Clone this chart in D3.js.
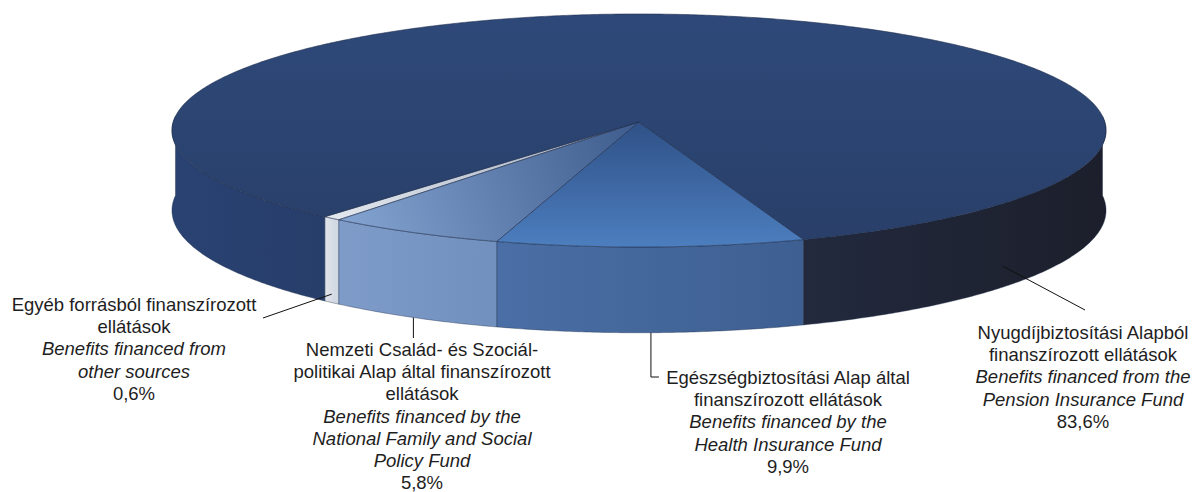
<!DOCTYPE html>
<html>
<head>
<meta charset="utf-8">
<script src="https://cdn.jsdelivr.net/npm/d3@7"></script>
<style>
  body { margin: 0; background: #fff; }
  svg { display: block; }
</style>
</head>
<body>
<div id="chart"></div>
<script>
// ---------------- data ----------------
var categories = ["other", "family", "health", "pension"];
var huLabelLines = [
  ["Egyéb forrásból finanszírozott", "ellátások"],
  ["Nemzeti Család- és Szociál-", "politikai Alap által finanszírozott", "ellátások"],
  ["Egészségbiztosítási Alap által", "finanszírozott ellátások"],
  ["Nyugdíjbiztosítási Alapból", "finanszírozott ellátások"]
];
var enLabelLines = [
  ["Benefits financed from", "other sources"],
  ["Benefits financed by the", "National Family and Social", "Policy Fund"],
  ["Benefits financed by the", "Health Insurance Fund"],
  ["Benefits financed from the", "Pension Insurance Fund"]
];
var shares = [0.6, 5.8, 9.9, 83.6];

// ---------------- layout / style ----------------
var attrs = {
  width: 1198,
  height: 492,
  cx: 639,
  cy: 122,
  rx: 465.8,
  ry: 115.9,
  depth: 79.5,
  persp: 0.0729,        // perspective factor of the tilted disc
  startDeg: -39.54,     // angle of first slice edge, 0 = front
  font: "'Liberation Sans', Arial, sans-serif",
  fontSize: 18.5,
  lineHeight: 22.2,
  textColor: "#1e1e1e",
  edgeColor: "#1b2a48"
};

var sideFill = ["url(#otherSide)", "url(#familySide)", "url(#healthSide)", "url(#pensionSide)"];
var topFill = ["url(#otherTop)", "url(#familyTop)", "url(#healthTop)", "url(#pensionTop)"];

// label anchors (text centre x, first baseline y)
var labelPos = [
  { x: 134, y: 311 },
  { x: 422, y: 356 },
  { x: 788, y: 384 },
  { x: 1083, y: 339 }
];

var svg = d3.select("#chart").append("svg")
  .attr("width", attrs.width)
  .attr("height", attrs.height);

// ---------------- gradients ----------------
var defs = svg.append("defs");
function linGrad(id, x1, y1, x2, y2, stops) {
  var g = defs.append("linearGradient").attr("id", id)
    .attr("gradientUnits", "userSpaceOnUse")
    .attr("x1", x1).attr("y1", y1).attr("x2", x2).attr("y2", y2);
  stops.forEach(function(s) {
    g.append("stop").attr("offset", s[0]).attr("stop-color", s[1]);
  });
}
linGrad("pensionSide", 172, 0, 1107, 0, [[0, "#2a4272"], [0.16, "#273e6b"], [0.66, "#232a3f"], [1, "#1c1f2b"]]);
linGrad("healthSide", 495, 0, 802, 0, [[0, "#4a6fa6"], [0.5, "#44679b"], [1, "#3e5f91"]]);
linGrad("familySide", 335, 0, 495, 0, [[0, "#7f9cc9"], [1, "#7190be"]]);
linGrad("otherSide", 322, 0, 335, 0, [[0, "#e4e8ee"], [1, "#d3d9e3"]]);
linGrad("pensionTop", 0, 14, 0, 250, [[0, "#2e4979"], [1, "#293f69"]]);
linGrad("healthTop", 0, 122, 0, 250, [[0, "#2f5187"], [1, "#4d7fc0"]]);
linGrad("familyTop", 640, 122, 330, 236, [[0, "#3d5b8c"], [1, "#87a7d4"]]);
linGrad("otherTop", 640, 122, 320, 216, [[0, "#9aa6ba"], [1, "#e6eaf0"]]);

// ---------------- projection ----------------
function project(phi, r, z) {
  var u = r * Math.sin(phi), v = r * Math.cos(phi);
  var w = 1 - attrs.persp * v;
  return [attrs.cx + attrs.rx * u / w, attrs.cy + (attrs.ry * v + attrs.depth * z) / w];
}
function arcPoints(a0, a1, z) {
  var n = Math.max(2, Math.ceil(Math.abs(a1 - a0) / (Math.PI / 360)));
  return d3.range(n + 1).map(function(i) { return project(a0 + (a1 - a0) * i / n, 1, z); });
}
function visiblePieces(a0, a1) {
  var lim = Math.PI / 2 + 0.05, out = [];
  [-2 * Math.PI, 0, 2 * Math.PI].forEach(function(k) {
    var lo = Math.max(a0, k - lim), hi = Math.min(a1, k + lim);
    if (hi > lo) out.push([lo, hi]);
  });
  return out;
}

var start = attrs.startDeg * Math.PI / 180;
var pie = d3.pie().sort(null).value(function(d) { return d; })
  .startAngle(start).endAngle(start + 2 * Math.PI);
var arcs = pie(shares);
var line = d3.line();

// ---------------- side walls ----------------
var walls = [];
arcs.forEach(function(a, i) {
  visiblePieces(a.startAngle, a.endAngle).forEach(function(p) {
    walls.push({ i: i, pts: arcPoints(p[0], p[1], 0).concat(arcPoints(p[1], p[0], 1)) });
  });
});
svg.append("g").selectAll("path.wall").data(walls).enter().append("path")
  .attr("class", "wall")
  .attr("d", function(d) { return line(d.pts) + "Z"; })
  .attr("fill", function(d) { return sideFill[d.i]; })
  .attr("stroke", attrs.edgeColor)
  .attr("stroke-opacity", 0.55)
  .attr("stroke-width", 0.7)
  .attr("stroke-linejoin", "round");

// ---------------- top faces ----------------
svg.append("g").selectAll("path.top").data(arcs).enter().append("path")
  .attr("class", "top")
  .attr("d", function(d) {
    return line([[attrs.cx, attrs.cy]].concat(arcPoints(d.startAngle, d.endAngle, 0))) + "Z";
  })
  .attr("fill", function(d, i) { return topFill[i]; })
  .attr("stroke", attrs.edgeColor)
  .attr("stroke-opacity", 0.7)
  .attr("stroke-width", 0.8)
  .attr("stroke-linejoin", "round");

// ---------------- leader lines ----------------
function mid(a) { return (a.startAngle + a.endAngle) / 2; }
var pOther = project(mid(arcs[0]), 1, 0.9);
var pFamily = project(mid(arcs[1]), 1, 1);
var pHealth = project(mid(arcs[2]), 1, 1);
var pPension = project(48 * Math.PI / 180, 1, 0.75);
var leaders = [
  [pOther, [263, 318]],
  [pFamily, [pFamily[0], 338]],
  [pHealth, [pHealth[0], 377], [pHealth[0] + 8, 377]],
  [pPension, [1085, 310]]
];
svg.append("g").selectAll("path.leader").data(leaders).enter().append("path")
  .attr("class", "leader")
  .attr("d", function(d) { return line(d); })
  .attr("fill", "none")
  .attr("stroke", "#111")
  .attr("stroke-width", 1);

// ---------------- labels ----------------
var pct = d3.format(".1f");
var labels = svg.append("g").selectAll("text.label").data(arcs).enter().append("text")
  .attr("class", "label")
  .attr("text-anchor", "middle")
  .attr("font-family", attrs.font)
  .attr("font-size", attrs.fontSize)
  .attr("fill", attrs.textColor)
  .attr("x", function(d, i) { return labelPos[i].x; })
  .attr("y", function(d, i) { return labelPos[i].y; });

labels.each(function(d, i) {
  var t = d3.select(this);
  var rows = huLabelLines[i].map(function(s) { return { s: s, it: false }; })
    .concat(enLabelLines[i].map(function(s) { return { s: s, it: true }; }))
    .concat([{ s: pct(d.value).replace(".", ",") + "%", it: false }]);
  rows.forEach(function(r, k) {
    t.append("tspan")
      .attr("x", labelPos[i].x)
      .attr("dy", k === 0 ? 0 : attrs.lineHeight)
      .attr("font-style", r.it ? "italic" : "normal")
      .text(r.s);
  });
});
</script>
</body>
</html>
